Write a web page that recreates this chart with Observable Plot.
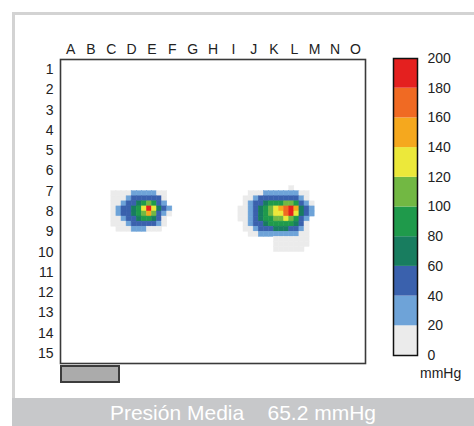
<!DOCTYPE html>
<html>
<head>
<meta charset="utf-8">
<script src="https://cdn.jsdelivr.net/npm/d3@7"></script>
<script src="https://cdn.jsdelivr.net/npm/@observablehq/plot@0.6"></script>
<style>
  html, body { margin: 0; padding: 0; background: #fff; }
  #page { position: relative; width: 474px; height: 426px; overflow: hidden; background: #fff;
          font-family: "Liberation Sans", Arial, sans-serif; }
  #card { position: absolute; left: 12px; top: 12px; width: 470px; height: 420px;
          border-top: 3px solid #d3d3d3; border-left: 3px solid #d3d3d3; box-sizing: border-box; }
  .abs { position: absolute; top: 0; }
  #connector { position: absolute; left: 60px; top: 365px; width: 60px; height: 18px; box-sizing: border-box;
               background: #ababab; border: 2px solid #3c3c3c; }
  #unit { position: absolute; left: 420px; top: 366px; font-size: 14px; line-height: 14px; color: #222; }
  #bar { position: absolute; left: 12px; top: 398px; width: 462px; height: 40px; background: #c7c8ca; }
  #caption { position: absolute; left: 0; width: 462px; top: 4px; text-align: center; color: #fff;
             font-size: 21px; line-height: 21px; white-space: pre; }
</style>
</head>
<body>
<div id="page">
  <div id="card"></div>
  <div id="main" class="abs" style="left:0"></div>
  <div id="legend" class="abs" style="left:370px"></div>
  <div id="connector"></div>
  <div id="unit"></div>
  <div id="bar"><div id="caption"></div></div>
</div>
<script>
// ---- data ----
const columnLabels = ["A","B","C","D","E","F","G","H","I","J","K","L","M","N","O"];
const rowLabels = ["1","2","3","4","5","6","7","8","9","10","11","12","13","14","15"];
const legendTicks = [0, 20, 40, 60, 80, 100, 120, 140, 160, 180, 200];
const legendColors = ["#ebebeb", "#6ea3d8", "#3a61ad", "#187d5f", "#1f9a4b",
                      "#72b843", "#ece83a", "#f5a81e", "#f06a23", "#e4201f"];
const legendUnit = "mmHg";
const captionText = "Presión Media    65.2 mmHg";
const subdivisions = 4; // sub-cells per sensor cell in the pressure map

// left footprint: origin [sub-column, sub-row], values in mmHg
const leftBlobOrigin = [10, 26];
const leftBlob = [
  [10,10,10,10,30,30,30,30,30,10,10, 0],
  [10,10,10,30,50,50,50,50,50,50,10, 0],
  [10,10,30,50,50,70,90,110,90,50,30, 0],
  [10,30,50,50,70,90,130,190,130,70,50,30],
  [10,30,50,50,70,90,110,150,110,50,30,10],
  [10,10,30,50,50,70,90,90,70,50,10, 0],
  [10,10,10,30,50,50,50,50,50,30,10, 0],
  [ 0,10,10,10,30,30,30,10,10,10, 0, 0]
];

// right footprint
const rightBlobOrigin = [35, 25];
const rightBlob = [
  [ 0, 0, 0, 0, 0, 0, 0, 0, 0, 0,10, 0, 0, 0, 0],
  [ 0, 0,10,10,10,30,30,30,30,30,30,30,10,10, 0],
  [ 0,10,10,30,50,50,50,50,50,50,50,50,30,10, 0],
  [ 0,10,30,50,50,70,90,90,90,110,110,90,50,30,10],
  [10,10,30,50,70,90,110,130,150,170,190,150,70,50,30],
  [10,10,30,50,70,90,110,130,130,170,190,130,70,50,30],
  [10,10,30,50,70,90,90,110,110,130,110,90,50,30, 0],
  [ 0,10,30,50,50,70,90,90,90,90,90,70,50,10, 0],
  [ 0,10,10,30,50,50,50,70,70,70,50,50,30,10, 0],
  [ 0, 0,10,10,30,30,30,30,30,30,30,30,10,10, 0],
  [ 0, 0, 0, 0, 0, 0, 0,10,10,10,10,10,10,10, 0],
  [ 0, 0, 0, 0, 0, 0, 0,10,10,10,10,10,10,10, 0],
  [ 0, 0, 0, 0, 0, 0, 0,10,10,10,10,10,10, 0, 0]
];

// ---- build tables ----
function cellsOf(matrix, origin) {
  const out = [];
  matrix.forEach((row, r) => row.forEach((v, c) => {
    if (v > 0) {
      const i = origin[0] + c, j = origin[1] + r;
      out.push({x1: i / subdivisions, x2: (i + 1) / subdivisions,
                y1: j / subdivisions, y2: (j + 1) / subdivisions, v});
    }
  }));
  return out;
}
const cells = cellsOf(leftBlob, leftBlobOrigin).concat(cellsOf(rightBlob, rightBlobOrigin));
const bands = legendColors.map((c, k) => ({lo: legendTicks[k], hi: legendTicks[k + 1], mid: (legendTicks[k] + legendTicks[k + 1]) / 2}));
const colorScale = {type: "threshold", domain: legendTicks.slice(1, -1), range: legendColors};

const font = {fontFamily: "'Liberation Sans', Arial, sans-serif", fontSize: "14px", color: "#222", background: "transparent"};

const main = Plot.plot({
  width: 370, height: 398,
  marginLeft: 60, marginRight: 5, marginTop: 59, marginBottom: 35,
  x: {domain: [0, columnLabels.length]},
  y: {domain: [0, rowLabels.length], reverse: true},
  color: colorScale,
  style: font,
  marks: [
    Plot.rect(cells, {x1: "x1", x2: "x2", y1: "y1", y2: "y2", fill: "v", stroke: "v", strokeWidth: 0.5}),
    Plot.frame({stroke: "#3a3a3a", strokeWidth: 1.6}),
    Plot.axisX({anchor: "top", ticks: columnLabels.map((_, k) => k + 0.5),
                tickFormat: d => columnLabels[Math.floor(d)], tickSize: 0, tickPadding: 6, label: null}),
    Plot.axisY({anchor: "left", ticks: rowLabels.map((_, k) => k + 0.5),
                tickFormat: d => rowLabels[Math.floor(d)], tickSize: 0, tickPadding: 7, label: null})
  ]
});
document.getElementById("main").appendChild(main);

const legend = Plot.plot({
  width: 104, height: 398,
  marginLeft: 23, marginRight: 57, marginTop: 58, marginBottom: 43,
  y: {domain: [legendTicks[0], legendTicks[legendTicks.length - 1]]},
  color: colorScale,
  style: font,
  marks: [
    Plot.rect(bands, {y1: "lo", y2: "hi", fill: "mid"}),
    Plot.frame({stroke: "#111", strokeWidth: 1.5}),
    Plot.axisY({anchor: "right", ticks: legendTicks, tickSize: 0, tickPadding: 10, label: null})
  ]
});
document.getElementById("legend").appendChild(legend);

document.getElementById("unit").textContent = legendUnit;
document.getElementById("caption").textContent = captionText;
</script>
</body>
</html>
